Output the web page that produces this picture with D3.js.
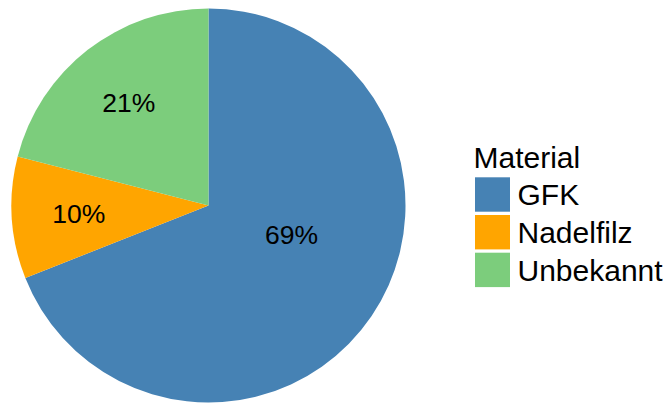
<!DOCTYPE html>
<html>
<head>
<meta charset="utf-8">
<script src="https://cdn.jsdelivr.net/npm/d3@7"></script>
<style>
  html, body { margin: 0; padding: 0; background: #fff; }
  svg { display: block; font-family: "Liberation Sans", Arial, sans-serif; }
</style>
</head>
<body>
<svg id="chart" width="669" height="403"></svg>
<script>
// Material shares of the pie
const categories = ["GFK", "Nadelfilz", "Unbekannt"];
const values = [69, 10, 21];
const labels = ["69%", "10%", "21%"];
const colors = ["#4682B4", "#FFA500", "#7CCD7C"];
const legendTitle = "Material";

const svg = d3.select("#chart");
const cx = 208.5, cy = 205.5, radius = 197;

const data = categories.map((c, i) => ({ name: c, value: values[i], label: labels[i] }));

const pie = d3.pie().value(d => d.value).sort(null);
const arcs = pie(data);
const arc = d3.arc().innerRadius(0).outerRadius(radius);

const color = d3.scaleOrdinal().domain(categories).range(colors);

const g = svg.append("g").attr("transform", `translate(${cx},${cy})`);

g.selectAll("path.slice")
  .data(arcs)
  .join("path")
  .attr("class", "slice")
  .attr("d", arc)
  .attr("fill", d => color(d.data.name));

// label placement inside each slice: fraction along the slice's sweep and distance from center
const labelLayout = [{ t: 0.44, r: 88 }, { t: 0.5, r: 130 }, { t: 0.5, r: 130 }];
const fs = 26.5;
g.selectAll("text.pct")
  .data(arcs)
  .join("text")
  .attr("class", "pct")
  .attr("x", (d, i) => {
    const a = d.startAngle + (d.endAngle - d.startAngle) * labelLayout[i].t;
    return Math.sin(a) * labelLayout[i].r;
  })
  .attr("y", (d, i) => {
    const a = d.startAngle + (d.endAngle - d.startAngle) * labelLayout[i].t;
    return -Math.cos(a) * labelLayout[i].r + fs * 0.358;
  })
  .attr("text-anchor", "middle")
  .attr("font-size", fs)
  .attr("fill", "#000")
  .text(d => d.data.label);

// legend
const legend = svg.append("g").attr("transform", "translate(475,0)");
legend.append("text")
  .attr("x", -1.5)
  .attr("y", 167.5)
  .attr("font-size", 30)
  .attr("fill", "#000")
  .text(legendTitle);

const step = 37.7;
const items = legend.selectAll("g.item")
  .data(categories)
  .join("g")
  .attr("class", "item")
  .attr("transform", (d, i) => `translate(0,${177.3 + i * step})`);

items.append("rect")
  .attr("width", 35)
  .attr("height", 34.4)
  .attr("fill", d => color(d));

items.append("text")
  .attr("x", 42.5)
  .attr("y", 28)
  .attr("font-size", 30)
  .attr("fill", "#000")
  .text(d => d);
</script>
</body>
</html>
